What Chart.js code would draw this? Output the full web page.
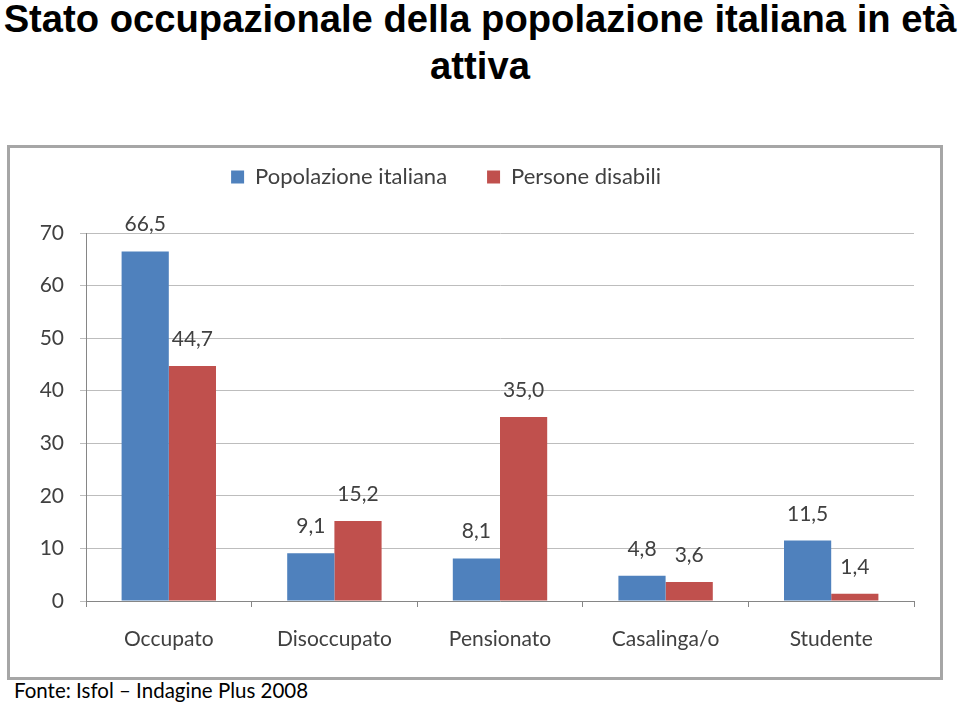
<!DOCTYPE html>
<html>
<head>
<meta charset="utf-8">
<title>Stato occupazionale</title>
<script src="https://cdn.jsdelivr.net/npm/chart.js@4.4.1/dist/chart.umd.min.js"></script>
<style>
  body { margin: 0; width: 960px; height: 709px; background: #fff; position: relative; overflow: hidden; }
  #title {
    position: absolute; left: 0; top: -5px; width: 960px;
    font: bold 38.2px "Liberation Sans", Arial, sans-serif;
    line-height: 47px; text-align: center; color: #000; white-space: nowrap;
  }
  #frame {
    position: absolute; left: 7px; top: 145px; width: 930px; height: 529px;
    border: 3px solid #a6a6a6; background: #fff;
  }
  #source {
    position: absolute; left: 14px; top: 678px;
    font: 20.5px Lato, "Open Sans", sans-serif; color: #000;
  }
</style>
</head>
<body>
<div id="title">Stato occupazionale della popolazione italiana in età<br>attiva</div>
<div id="frame"><canvas id="chart" width="930" height="529"></canvas></div>
<div id="source">Fonte: Isfol – Indagine Plus 2008</div>
<script>
// dati
var categorie = ["Occupato", "Disoccupato", "Pensionato", "Casalinga/o", "Studente"];
var popolazione = [66.5, 9.1, 8.1, 4.8, 11.5];
var disabili = [44.7, 15.2, 35.0, 3.6, 1.4];
var yTicks = [0, 10, 20, 30, 40, 50, 60, 70];

var fontCal = "Lato, 'Open Sans', sans-serif";
var grigio = "#404040";

// etichette sopra le barre (virgola decimale)
var etichette = {
  id: "etichette",
  afterDatasetsDraw: function(chart) {
    var ctx = chart.ctx;
    ctx.save();
    ctx.font = "21px " + fontCal;
    ctx.fillStyle = grigio;
    ctx.textAlign = "center";
    ctx.textBaseline = "alphabetic";
    chart.data.datasets.forEach(function(ds, i) {
      chart.getDatasetMeta(i).data.forEach(function(bar, j) {
        var txt = ds.data[j].toFixed(1).replace(".", ",");
        ctx.fillText(txt, bar.x, bar.y - 20);
      });
    });
    ctx.restore();
  }
};

// legenda: altezza fissa e spostamento
var legendaPos = {
  id: "legendaPos",
  beforeInit: function(chart) {
    var leg = chart.legend;
    var fit = leg.fit;
    leg.fit = function() {
      fit.call(this);
      this.height = 85;
    };
  },
  afterLayout: function(chart) {
    var leg = chart.legend;
    leg.top -= 22;
    leg.left -= 16;
    leg.right -= 16;
  }
};

var ctx = document.getElementById('chart').getContext('2d');
var chart = new Chart(ctx, {
  type: 'bar',
  data: {
    labels: categorie,
    datasets: [{
      label: "Popolazione italiana",
      data: popolazione,
      backgroundColor: "#4f81bd"
    }, {
      label: "Persone disabili",
      data: disabili,
      backgroundColor: "#c0504d"
    }]
  },
  options: {
    responsive: false,
    animation: false,
    events: [],
    datasets: {
      bar: { categoryPercentage: 0.57, barPercentage: 1.0 }
    },
    layout: {
      padding: { left: 0, right: 26, top: 0, bottom: 0 }
    },
    plugins: {
      legend: {
        position: 'top',
        labels: {
          boxWidth: 13,
          boxHeight: 13,
          padding: 40,
          color: grigio,
          font: { family: fontCal, size: 22 }
        }
      },
      tooltip: { enabled: false },
      title: { display: false }
    },
    scales: {
      x: {
        grid: {
          display: true,
          drawOnChartArea: false,
          tickLength: 6,
          color: "#868686"
        },
        border: { color: "#868686", width: 1 },
        ticks: {
          padding: 20,
          color: grigio,
          font: { family: fontCal, size: 21 }
        },
        afterFit: function(s) { s.height = 76; }
      },
      y: {
        min: 0,
        max: 70,
        afterBuildTicks: function(s) {
          s.ticks = yTicks.map(function(v) { return { value: v }; });
        },
        grid: {
          color: "#bdbdbd",
          tickLength: 6
        },
        border: { color: "#868686", width: 1 },
        ticks: {
          padding: 16,
          color: grigio,
          font: { family: fontCal, size: 21 }
        },
        afterFit: function(s) { s.width = 76; }
      }
    }
  },
  plugins: [legendaPos, etichette]
});
</script>
</body>
</html>
